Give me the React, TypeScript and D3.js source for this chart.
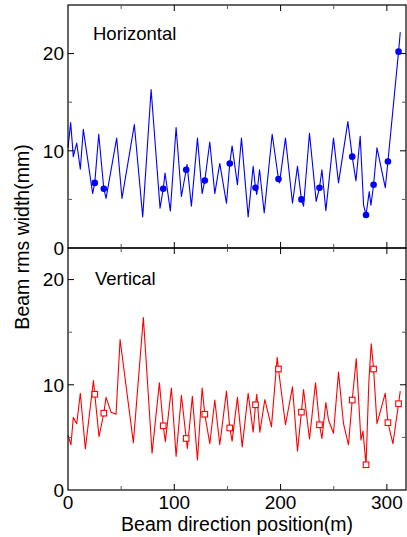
import React, { useRef, useEffect } from "react";
import * as d3 from "d3";

// horizontal beam width along the line
const hPos = [0, 2.5, 5, 8.2, 11.6, 14.4, 23.2, 25.2, 28.9, 33.7, 35.8, 45.8, 50.8, 62.4, 70.3, 78.2, 86.6, 89.6, 91.3, 96.3, 101.7, 106.7, 111.2, 112, 116.1, 121.8, 126.2, 128.7, 133.4, 138.1, 142.8, 149.1, 152.2, 154.4, 159.4, 163.2, 169.5, 174.2, 176.4, 177.6, 180.2, 184.6, 192.1, 198, 199, 204.6, 211.2, 215.9, 219.6, 221.6, 227.2, 233.5, 236.6, 238.9, 242.6, 249.8, 254.5, 263.3, 267.4, 270.9, 274.9, 278.1, 280.4, 283.4, 285, 287.5, 290.7, 298.5, 301, 311, 312.6];
const hWidth = [10.3, 12.9, 9.4, 10.8, 8.1, 12.2, 5.6, 6.7, 11.7, 6.1, 5.1, 11.3, 5.1, 12.7, 3.2, 16.3, 4.1, 6.1, 7.7, 3.8, 12.4, 5.3, 8.05, 8.6, 4.3, 11.3, 5.6, 6.95, 10.9, 5.6, 8.7, 4.6, 8.7, 10.5, 6.5, 11.3, 3.2, 8.4, 6.2, 5.5, 8.05, 3.6, 11.7, 7.1, 6.7, 11.3, 4.6, 8.4, 5.0, 4.3, 11.8, 4.8, 6.2, 8.05, 3.85, 11.3, 6.7, 13.0, 9.4, 6.9, 11.5, 4.4, 3.4, 5.8, 4.4, 6.5, 10.3, 6.2, 8.9, 20.2, 22.2];

// vertical beam width along the line
const vPos = [0, 2.8, 5, 8.2, 11.6, 16.3, 23.9, 25.2, 29.2, 33.7, 35.8, 40.5, 45.2, 49, 61.5, 70.9, 79.1, 86, 89.6, 91.6, 97.3, 101.7, 106.7, 111.2, 112.3, 117, 121.8, 126.2, 128.7, 133.4, 138.1, 142.8, 149.1, 152.2, 154.4, 159.4, 163.9, 169.5, 174.2, 176.4, 177.6, 180.5, 185.2, 191.4, 196.8, 198, 204.6, 211.2, 215.9, 219.6, 221.6, 227.2, 232.9, 236.6, 238.9, 242.6, 245.1, 249.8, 254.5, 259.2, 263.9, 267.4, 271.2, 275.6, 277.5, 280.4, 283.1, 285.3, 287.5, 290.7, 298.5, 301, 305.7, 311, 312.6];
const vWidth = [5.2, 4.3, 6.9, 6.3, 9.2, 3.9, 10.4, 9.1, 5.06, 7.3, 8.8, 7.4, 7.2, 14.3, 4.5, 16.4, 3.5, 10.2, 6.1, 4.6, 9.7, 3.2, 9.0, 4.9, 3.95, 8.9, 2.85, 9.7, 7.2, 4.4, 8.55, 4.3, 9.4, 5.9, 4.65, 8.8, 4.1, 9.2, 5.5, 8.1, 9.1, 5.5, 8.6, 6.0, 12.6, 11.5, 6.2, 9.8, 3.7, 7.4, 9.55, 4.85, 10.2, 6.2, 4.9, 8.3, 6.65, 5.4, 11.2, 6.3, 4.3, 8.55, 12.5, 4.75, 5.6, 2.4, 10.4, 13.9, 11.5, 6.3, 9.2, 6.4, 4.4, 8.2, 9.4];

// marked positions (same for both planes)
const markerPos = [25.2, 33.7, 89.6, 111.2, 128.7, 152.2, 176.4, 198, 219.6, 236.6, 267.4, 280.4, 287.5, 301, 311];
const hMarker = [6.7, 6.1, 6.1, 8.05, 6.95, 8.7, 6.2, 7.1, 5.0, 6.2, 9.4, 3.4, 6.5, 8.9, 20.2];
const vMarker = [9.1, 7.3, 6.1, 4.9, 7.2, 5.9, 8.1, 11.5, 7.4, 6.2, 8.55, 2.4, 11.5, 6.4, 8.2];

const xMajor = [0, 100, 200, 300];
const xMinor = [50, 150, 250];
const yMajor = [0, 10, 20];
const yMinor = [5, 15];

const FONT = "'Liberation Sans', Arial, Helvetica, sans-serif";

const App = () => {
    const svgRef = useRef(null);

    useEffect(() => {
        const svg = d3.select(svgRef.current);
        svg.selectAll("*").remove();

        const left = 68, right = 406;
        const x = d3.scaleLinear().domain([0, 318]).range([left, right]);

        const panels = [
            { top: 5, bottom: 248, max: 25, pos: hPos, val: hWidth, mk: hMarker, color: "#0000ff", title: "Horizontal", square: false },
            { top: 248, bottom: 490, max: 23, pos: vPos, val: vWidth, mk: vMarker, color: "#ff0000", title: "Vertical", square: true },
        ];

        panels.forEach((p, pi) => {
            const y = d3.scaleLinear().domain([0, p.max]).range([p.bottom, p.top]);
            const g = svg.append("g");

            const line = d3.line<number>()
                .x((d, i) => x(p.pos[i]))
                .y((d) => y(d));

            g.append("path")
                .attr("d", line(p.val))
                .attr("fill", "none")
                .attr("stroke", p.color)
                .attr("stroke-width", 1.1)
                .attr("stroke-linejoin", "round");

            if (p.square) {
                g.selectAll("rect.mk")
                    .data(p.mk)
                    .enter()
                    .append("rect")
                    .attr("x", (d, i) => x(markerPos[i]) - 2.8)
                    .attr("y", (d) => y(d) - 2.8)
                    .attr("width", 5.6)
                    .attr("height", 5.6)
                    .attr("fill", "#fff")
                    .attr("stroke", p.color)
                    .attr("stroke-width", 1.1);
            } else {
                g.selectAll("circle.mk")
                    .data(p.mk)
                    .enter()
                    .append("circle")
                    .attr("cx", (d, i) => x(markerPos[i]))
                    .attr("cy", (d) => y(d))
                    .attr("r", 3.3)
                    .attr("fill", p.color);
            }

            // frame
            g.append("rect")
                .attr("x", left)
                .attr("y", p.top)
                .attr("width", right - left)
                .attr("height", p.bottom - p.top)
                .attr("fill", "none")
                .attr("stroke", "#000")
                .attr("stroke-width", 1.2);

            // inward ticks on all four sides
            const tick = (x1, y1, x2, y2, minor) =>
                g.append("line")
                    .attr("x1", x1).attr("y1", y1).attr("x2", x2).attr("y2", y2)
                    .attr("stroke", minor ? "#555" : "#000")
                    .attr("stroke-width", 1);

            xMajor.concat(xMinor).forEach((v) => {
                const minor = xMinor.includes(v);
                const len = minor ? 4 : 6;
                if (v === 0) return;
                tick(x(v), p.bottom, x(v), p.bottom - len, minor);
                tick(x(v), p.top, x(v), p.top + len, minor);
            });
            yMajor.concat(yMinor).forEach((v) => {
                const minor = yMinor.includes(v);
                const len = minor ? 4 : 6;
                if (v === 0) return;
                tick(left, y(v), left + len, y(v), minor);
                tick(right, y(v), right - len, y(v), minor);
            });

            g.selectAll("text.ytick")
                .data(yMajor)
                .enter()
                .append("text")
                .attr("x", left - 4)
                .attr("y", (d) => y(d))
                .attr("dy", "0.36em")
                .attr("text-anchor", "end")
                .attr("font-family", FONT)
                .attr("font-size", 19)
                .text((d) => d);

            g.append("text")
                .attr("x", pi === 0 ? 93 : 95)
                .attr("y", p.top + (pi === 0 ? 35 : 37))
                .attr("font-family", FONT)
                .attr("font-size", 18.5)
                .text(p.title);
        });

        svg.selectAll("text.xtick")
            .data(xMajor)
            .enter()
            .append("text")
            .attr("x", (d) => x(d))
            .attr("y", 509)
            .attr("text-anchor", "middle")
            .attr("font-family", FONT)
            .attr("font-size", 19)
            .text((d) => d);

        svg.append("text")
            .attr("x", 237)
            .attr("y", 531)
            .attr("text-anchor", "middle")
            .attr("font-family", FONT)
            .attr("font-size", 19.5)
            .text("Beam direction position(m)");

        svg.append("text")
            .attr("transform", "translate(28.5,237) rotate(-90)")
            .attr("text-anchor", "middle")
            .attr("font-family", FONT)
            .attr("font-size", 19.5)
            .text("Beam rms width(mm)");
    }, []);

    return (
        <svg
            ref={svgRef}
            width={407}
            height={537}
            style={{ position: "absolute", left: 0, top: 0, background: "#fff" }}
        />
    );
};

export default App;
